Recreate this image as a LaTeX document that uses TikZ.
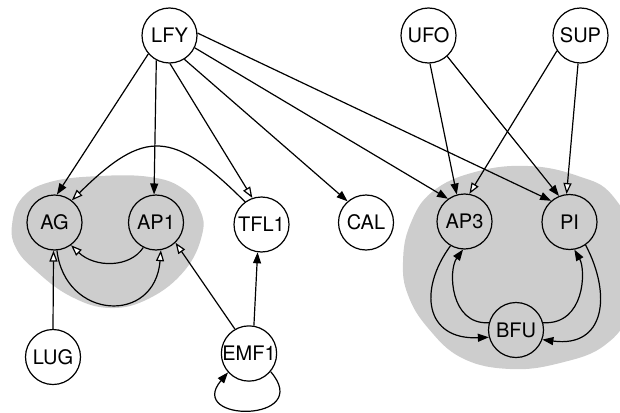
\documentclass[tikz,border=0pt]{standalone}
\usepackage{fontspec}
\setmainfont{TeX Gyre Heros}
\usetikzlibrary{arrows.meta}
\definecolor{blobgray}{RGB}{205,205,205}
\tikzset{
  gene/.style={circle, draw, line width=1.2pt, minimum size=55pt, inner sep=0pt,
    font=\fontsize{20}{21}\selectfont},
  outer/.style={gene, fill=white},
  inner/.style={gene, fill=blobgray},
  act/.style={line width=1.2pt, -{Triangle[length=11pt,width=8pt]}},
  rep/.style={line width=1.2pt, -{Triangle[open,length=11pt,width=8pt,fill=white]}},
}
\begin{document}
\begin{tikzpicture}[x=1pt,y=1pt]
\path[use as bounding box] (0,0) rectangle (620,-412);
\clip (0,0) rectangle (620,-412);

% shaded modules
\fill[blobgray] plot[smooth cycle, tension=0.7] coordinates {
  (12,-225) (22,-198) (50,-182) (100,-176) (150,-177) (182,-188) (200,-210)
  (202,-235) (185,-270) (150,-298) (110,-308) (70,-296) (35,-270) (16,-248)};
\fill[blobgray] plot[smooth cycle, tension=0.7] coordinates {
  (403,-262) (410,-225) (432,-192) (475,-172) (528,-166) (578,-176) (612,-195)
  (632,-240) (628,-310) (605,-345) (560,-363) (510,-369) (462,-358) (428,-328)
  (408,-295)};

% genes
\node[outer] (LFY)  at (169.5,-35.5) {LFY};
\node[outer] (UFO)  at (428.5,-35.5) {UFO};
\node[outer] (SUP)  at (580.5,-35.5) {SUP};
\node[inner] (AG)   at (54.5,-222.5) {AG};
\node[inner] (AP1)  at (156,-222.5) {AP1};
\node[outer] (TFL1) at (261.5,-224.5) {TFL1};
\node[outer] (CAL)  at (366,-222.5) {CAL};
\node[inner] (AP3)  at (464.5,-221.5) {AP3};
\node[inner] (PI)   at (569.5,-222) {PI};
\node[inner] (BFU)  at (516,-330) {BFU};
\node[outer] (LUG)  at (53,-357) {LUG};
\node[outer] (EMF1) at (249,-353.5) {EMF1};

% LFY targets
\draw[act] (LFY.221) -- (AG.85);
\draw[act] (LFY.242) -- (AP1.94);
\draw[rep] (LFY.271) -- (TFL1.109);
\draw[act] (LFY.302) -- (CAL.131);
\draw[act] (LFY.334) -- (AP3.126);
\draw[act] (LFY.5)   -- (PI.131);

% UFO and SUP
\draw[act] (UFO.273) -- (AP3.106);
\draw[act] (UFO.312) -- (PI.112);
\draw[rep] (SUP.213) -- (AP3.80);
\draw[rep] (SUP.265) -- (PI.96);

% left module
\draw[rep] (TFL1.126) .. controls (173,-130) and (145,-128) .. (AG.52);
\draw[rep] (AP1.-117) .. controls (130,-268) and (95,-268) .. (AG.-54);
\draw[rep] (AG.-85) .. controls (65,-320) and (155,-325) .. (AP1.-80);
\draw[rep] (LUG.90) -- (AG.-92);
\draw[rep] (EMF1.120) -- (AP1.-46);
\draw[act] (EMF1.80) -- (TFL1.-98);
\draw[act] (EMF1.-40) .. controls (315,-423) and (185,-423) .. (EMF1.-138);

% right module
\draw[act] (AP3.-120) .. controls (418,-290) and (425,-340) .. (BFU.195);
\draw[act] (BFU.165) .. controls (450,-325) and (448,-270) .. (AP3.-93);
\draw[act] (PI.-55) .. controls (612,-295) and (605,-348) .. (BFU.-20);
\draw[act] (BFU.15) .. controls (585,-325) and (586,-270) .. (PI.-80);
\end{tikzpicture}
\end{document}
